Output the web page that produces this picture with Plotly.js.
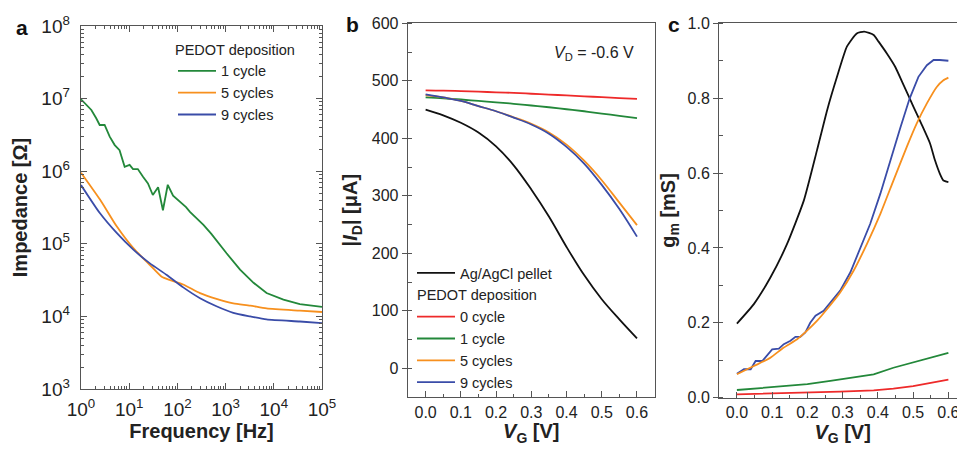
<!DOCTYPE html>
<html>
<head>
<meta charset="utf-8">
<script src="https://cdn.plot.ly/plotly-3.0.1.min.js"></script>
<style>
html,body{margin:0;padding:0;overflow:hidden;background:#fff;}
#chart{width:975px;height:449px;}
</style>
</head>
<body>
<div id="chart"></div>
<script>
// ---------- Panel a: impedance spectra ----------
const freq1Cycle = [1,1.29,1.64,2.07,2.44,3.09,3.94,5.01,6.31,8.05,10.2,12.0,15.1,19.5,24.5,30.9,39.8,50.1,63.1,81.3,102,151,182,251,347,501,759,1047,1995,3802,7079,15849,34674,100000];
const imp1Cycle = [9.77e6,8.17e6,6.97e6,5.36e6,4.33e6,4.33e6,2.99e6,2.29e6,1.95e6,1.15e6,1.22e6,1.07e6,1.07e6,8.3e5,6.8e5,4.7e5,6.0e5,2.9e5,6.5e5,4.6e5,4.0e5,3.2e5,2.75e5,2.24e5,1.82e5,1.38e5,9.5e4,7.4e4,4.4e4,2.9e4,2.1e4,1.7e4,1.48e4,1.35e4];
const freq5Cycles = [1,2.48,5.5,12.2,26.9,47.2,70.8,132,295,646,1445,3236,7079,34674,100000];
const imp5Cycles = [9.55e5,4.07e5,1.74e5,8.7e4,5.1e4,3.52e4,3.16e4,2.75e4,2.09e4,1.74e4,1.51e4,1.41e4,1.29e4,1.2e4,1.15e4];
const freq9Cycles = [1,2.48,5.5,12.2,26.9,60.3,132,295,646,1445,3236,7079,34674,100000];
const imp9Cycles = [6.46e5,2.63e5,1.41e5,8.3e4,5.37e4,3.72e4,2.51e4,1.78e4,1.38e4,1.12e4,1.0e4,9.1e3,8.5e3,8.1e3];
const impTickVals = [1e3,1e4,1e5,1e6,1e7,1e8];
const impTickText = ['10<sup>3</sup>','10<sup>4</sup>','10<sup>5</sup>','10<sup>6</sup>','10<sup>7</sup>','10<sup>8</sup>'];
const freqTickVals = [1,10,100,1000,10000,100000];
const freqTickText = ['10<sup>0</sup>','10<sup>1</sup>','10<sup>2</sup>','10<sup>3</sup>','10<sup>4</sup>','10<sup>5</sup>'];

// ---------- Panel b: transfer curves ----------
const vgB = [0,0.05,0.1,0.15,0.2,0.25,0.3,0.35,0.4,0.45,0.5,0.55,0.6];
const idAgAgCl = [450,440,427,410,386,353,311,264,211,162,120,85,52];
const id0Cycle = [483.5,483,482,481,480,479,477.5,476,474.5,473,471.5,470,468.5];
const id1Cycle = [471,469.5,467.5,465,462.5,460,457,454,450.5,447,443,439,435];
const id5Cycles = [475,471,465,456,447,436.5,425,410,389,361,327,288,249];
const id9Cycles = [476.5,471,465,456,447,436,424,408,385,356,319,277,229];

// ---------- Panel c: transconductance ----------
const vgCAg = [0,0.048,0.095,0.142,0.19,0.227,0.256,0.284,0.312,0.34,0.361,0.388,0.402,0.425,0.449,0.473,0.501,0.525,0.548,0.562,0.576,0.586,0.6];
const gmAg = [0.198,0.25,0.321,0.41,0.527,0.66,0.768,0.857,0.9375,0.973,0.978,0.969,0.951,0.92,0.884,0.835,0.777,0.728,0.679,0.634,0.598,0.58,0.576];
const vgC9 = [0,0.02,0.039,0.053,0.072,0.1,0.119,0.133,0.152,0.166,0.18,0.194,0.208,0.223,0.246,0.27,0.293,0.322,0.35,0.378,0.407,0.435,0.463,0.49,0.515,0.539,0.558,0.576,0.6];
const gm9 = [0.064,0.076,0.076,0.098,0.098,0.129,0.131,0.143,0.152,0.1625,0.1625,0.174,0.2,0.219,0.232,0.259,0.286,0.335,0.397,0.464,0.545,0.634,0.719,0.799,0.857,0.888,0.902,0.902,0.9];
const vgC5 = [0,0.029,0.058,0.095,0.133,0.171,0.199,0.227,0.256,0.293,0.331,0.369,0.407,0.444,0.482,0.51,0.539,0.567,0.586,0.6];
const gm5 = [0.0625,0.076,0.089,0.107,0.134,0.156,0.179,0.205,0.237,0.281,0.339,0.411,0.491,0.58,0.67,0.732,0.786,0.83,0.848,0.855];
const vgC1 = [0,0.058,0.124,0.2,0.265,0.331,0.388,0.444,0.5,0.548,0.6];
const gm1 = [0.0205,0.025,0.0286,0.036,0.045,0.055,0.0625,0.08,0.094,0.107,0.12];
const vgC0 = [0,0.105,0.2,0.293,0.388,0.444,0.5,0.548,0.6];
const gm0 = [0.009,0.011,0.013,0.016,0.0196,0.024,0.031,0.04,0.048];

const cBlack = '#111111', cRed = '#ee2a2a', cGreen = '#23883a', cOrange = '#f7901e', cBlue = '#3a4ca8';
const FONT = 'Liberation Sans, Arial, sans-serif';
const W = 975, H = 449;
const fx = p => p / W, fy = p => (H - p) / H;
const lw = 1.8;
const LEG = 14.5;

const traces = [
  // panel a
  {x: freq1Cycle, y: imp1Cycle, xaxis:'x', yaxis:'y', mode:'lines', name:'1 cycle', line:{color:cGreen,width:lw}, legend:'legend'},
  {x: freq5Cycles, y: imp5Cycles, xaxis:'x', yaxis:'y', mode:'lines', name:'5 cycles', line:{color:cOrange,width:lw,shape:'spline',smoothing:0.6}, legend:'legend'},
  {x: freq9Cycles, y: imp9Cycles, xaxis:'x', yaxis:'y', mode:'lines', name:'9 cycles', line:{color:cBlue,width:lw,shape:'spline',smoothing:0.6}, legend:'legend'},
  // panel b
  {x: vgB, y: idAgAgCl, xaxis:'x2', yaxis:'y2', mode:'lines', name:'Ag/AgCl pellet', line:{color:cBlack,width:lw,shape:'spline'}, legend:'legend2', legendgroup:'ag'},
  {x: vgB, y: id0Cycle, xaxis:'x2', yaxis:'y2', mode:'lines', name:'0 cycle', line:{color:cRed,width:lw,shape:'spline'}, legend:'legend2', legendgroup:'pedot', legendgrouptitle:{text:'PEDOT deposition', font:{size:LEG,family:FONT,color:'#222'}}},
  {x: vgB, y: id1Cycle, xaxis:'x2', yaxis:'y2', mode:'lines', name:'1 cycle', line:{color:cGreen,width:lw,shape:'spline'}, legend:'legend2', legendgroup:'pedot'},
  {x: vgB, y: id5Cycles, xaxis:'x2', yaxis:'y2', mode:'lines', name:'5 cycles', line:{color:cOrange,width:lw,shape:'spline'}, legend:'legend2', legendgroup:'pedot'},
  {x: vgB, y: id9Cycles, xaxis:'x2', yaxis:'y2', mode:'lines', name:'9 cycles', line:{color:cBlue,width:lw,shape:'spline'}, legend:'legend2', legendgroup:'pedot'},
  // panel c
  {x: vgCAg, y: gmAg, xaxis:'x3', yaxis:'y3', mode:'lines', showlegend:false, line:{color:cBlack,width:lw,shape:'spline',smoothing:0.5}},
  {x: vgC9, y: gm9, xaxis:'x3', yaxis:'y3', mode:'lines', showlegend:false, line:{color:cBlue,width:lw}},
  {x: vgC5, y: gm5, xaxis:'x3', yaxis:'y3', mode:'lines', showlegend:false, line:{color:cOrange,width:lw,shape:'spline',smoothing:0.5}},
  {x: vgC1, y: gm1, xaxis:'x3', yaxis:'y3', mode:'lines', showlegend:false, line:{color:cGreen,width:lw}},
  {x: vgC0, y: gm0, xaxis:'x3', yaxis:'y3', mode:'lines', showlegend:false, line:{color:cRed,width:lw}}
];

const axLine = {showline:true, linecolor:'#555', linewidth:1.3, mirror:true, showgrid:false, zeroline:false, tickcolor:'#555', tickfont:{family:FONT,size:16,color:'#222'}};
const titleFont = {family:FONT, size:20, color:'#222'};

const layout = {
  width: W, height: H,
  margin:{l:0,r:0,t:0,b:0},
  paper_bgcolor:'#fff', plot_bgcolor:'#fff',
  font:{family:FONT, color:'#222'},
  xaxis: Object.assign({}, axLine, {
    domain:[fx(81), fx(322)], anchor:'y', type:'log', range:[0,5],
    tickmode:'array', tickvals:freqTickVals, ticktext:freqTickText,
    ticks:'inside', ticklen:6, mirror:'ticks', ticklabelstandoff:3, tickfont:{family:FONT,size:19,color:'#222'},
    minor:{dtick:'D1', ticks:'inside', ticklen:3, tickcolor:'#555'},
    title:{text:'<b>Frequency [Hz]</b>', font:titleFont, standoff:4}
  }),
  yaxis: Object.assign({}, axLine, {
    domain:[fy(389), fy(26)], anchor:'x', type:'log', range:[3,8],
    tickmode:'array', tickvals:impTickVals, ticktext:impTickText,
    ticks:'inside', ticklen:6, mirror:'ticks', ticklabelstandoff:6, tickfont:{family:FONT,size:19,color:'#222'},
    minor:{dtick:'D1', ticks:'inside', ticklen:3, tickcolor:'#555'},
    title:{text:'<b>Impedance [Ω]</b>', font:titleFont, standoff:8}
  }),
  xaxis2: Object.assign({}, axLine, {
    domain:[fx(408), fx(654.6)], anchor:'y2', range:[-0.05,0.65],
    tickmode:'linear', tick0:0, dtick:0.1, tickformat:'.1f',
    ticks:'inside', ticklen:6,
    minor:{dtick:0.05, ticks:'inside', ticklen:3, tickcolor:'#555'},
    title:{text:'<b><i>V</i><sub>G</sub> [V]</b>', font:titleFont, standoff:4}
  }),
  yaxis2: Object.assign({}, axLine, {
    domain:[fy(397), fy(23.3)], anchor:'x2', range:[-50,600],
    tickmode:'linear', tick0:0, dtick:100,
    ticks:'outside', ticklen:5,
    minor:{dtick:50, tick0:0, ticks:'inside', ticklen:4, tickcolor:'#555'},
    title:{text:'<b>|<i>I</i><sub>D</sub>| [μA]</b>', font:titleFont, standoff:8}
  }),
  xaxis3: Object.assign({}, axLine, {
    domain:[fx(719.3), fx(966)], anchor:'y3', range:[-0.05,0.65],
    tickmode:'linear', tick0:0, dtick:0.1, tickformat:'.1f',
    ticks:'inside', ticklen:6,
    minor:{dtick:0.05, ticks:'inside', ticklen:3, tickcolor:'#555'},
    title:{text:'<b><i>V</i><sub>G</sub> [V]</b>', font:titleFont, standoff:4}
  }),
  yaxis3: Object.assign({}, axLine, {
    domain:[fy(397.7), fy(23.3)], anchor:'x3', range:[0,1.0],
    tickmode:'linear', tick0:0, dtick:0.2, tickformat:'.1f',
    ticks:'outside', ticklen:5,
    minor:{dtick:0.1, tick0:0, ticks:'inside', ticklen:4, tickcolor:'#555'},
    title:{text:'<b>g<sub>m</sub> [mS]</b>', font:titleFont, standoff:6}
  }),
  legend:{
    x:fx(173), y:fy(36), xanchor:'left', yanchor:'top',
    bgcolor:'rgba(0,0,0,0)', borderwidth:0, itemwidth:38,
    font:{family:FONT,size:LEG,color:'#222'},
    title:{text:'PEDOT deposition', font:{family:FONT,size:LEG,color:'#222'}},
    tracegroupgap:0
  },
  legend2:{
    x:fx(412), y:fy(257), xanchor:'left', yanchor:'top',
    bgcolor:'rgba(0,0,0,0)', borderwidth:0, itemwidth:38,
    font:{family:FONT,size:LEG,color:'#222'},
    tracegroupgap:0, traceorder:'grouped'
  },
  annotations:[
    {text:'<b>a</b>', xref:'paper', yref:'paper', x:fx(22), y:fy(27.5), xanchor:'center', yanchor:'middle', showarrow:false, font:{family:FONT,size:21,color:'#111'}},
    {text:'<b>b</b>', xref:'paper', yref:'paper', x:fx(352), y:fy(24), xanchor:'center', yanchor:'middle', showarrow:false, font:{family:FONT,size:21,color:'#111'}},
    {text:'<b>c</b>', xref:'paper', yref:'paper', x:fx(674), y:fy(24), xanchor:'center', yanchor:'middle', showarrow:false, font:{family:FONT,size:21,color:'#111'}},
    {text:'<i>V</i><sub>D</sub> = -0.6 V', xref:'paper', yref:'paper', x:fx(636), y:fy(54), xanchor:'right', yanchor:'middle', showarrow:false, font:{family:FONT,size:16,color:'#222'}}
  ],
  showlegend:true
};

Plotly.newPlot('chart', traces, layout, {displayModeBar:false, staticPlot:true});
</script>
</body>
</html>
